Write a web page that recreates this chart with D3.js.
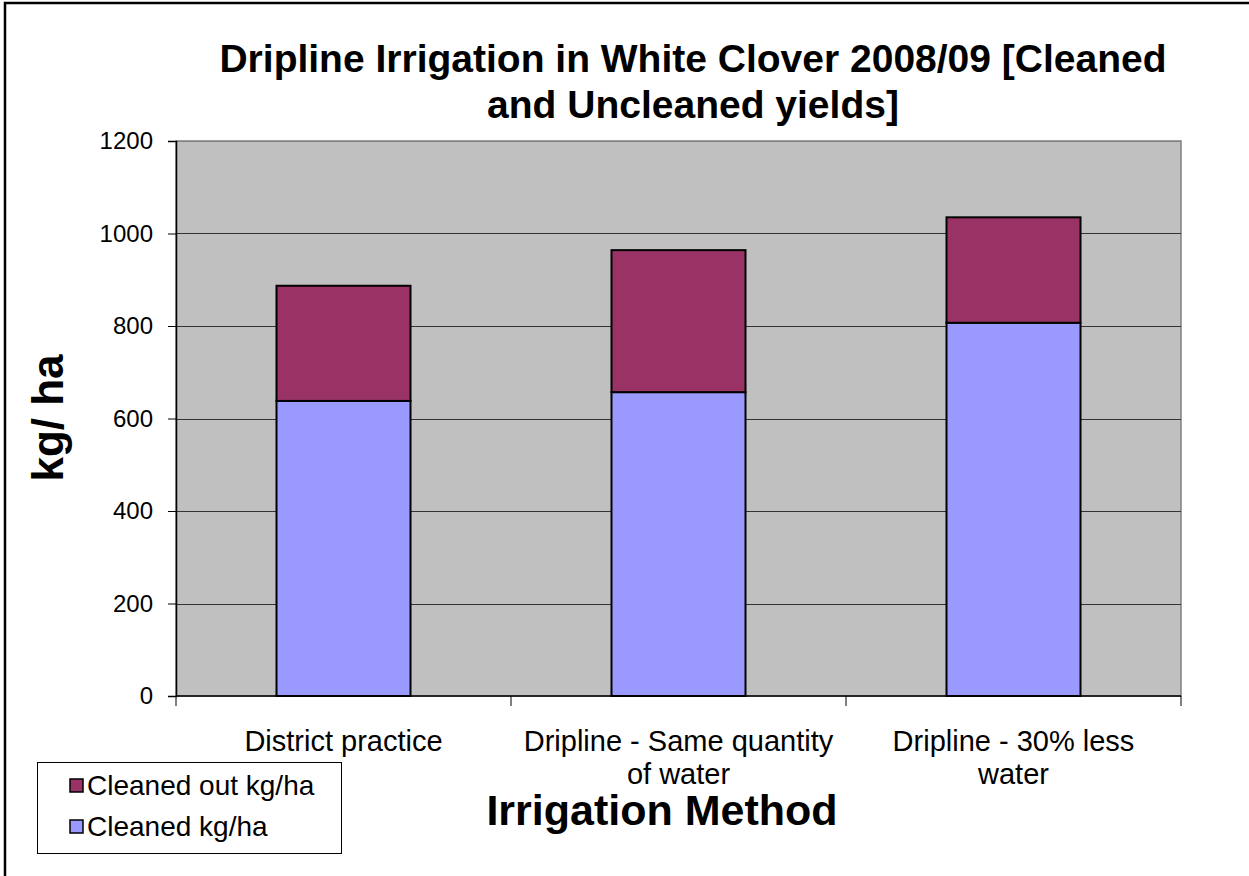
<!DOCTYPE html>
<html>
<head>
<meta charset="utf-8">
<script src="https://cdn.jsdelivr.net/npm/d3@7"></script>
<style>
  body { margin: 0; background: #fff; }
  svg { display: block; font-family: 'Liberation Sans', Arial, sans-serif; }
</style>
</head>
<body>
<svg id="chart" width="1249" height="876"></svg>
<script>
// chart data
const categories = ['District practice', 'Dripline - Same quantity of water', 'Dripline - 30% less water']
const categoryLines = [['District practice'], ['Dripline - Same quantity', 'of water'], ['Dripline - 30% less', 'water']]
const cleaned = [638, 657, 807]
const cleanedOut = [249, 307, 228]
const seriesNames = ['Cleaned kg/ha', 'Cleaned out kg/ha']
const seriesColors = ['#9999FF', '#993366']
const yTicks = [0, 200, 400, 600, 800, 1000, 1200]
const titleLines = ['Dripline Irrigation in White Clover 2008/09 [Cleaned', 'and Uncleaned yields]']

const svg = d3.select('#chart')
const plot = { left: 176, right: 1181, top: 141, bottom: 696 }

// outer chart border (only top/left visible in the crop)
svg.append('rect')
  .attr('x', 5).attr('y', 3)
  .attr('width', 1400).attr('height', 1000)
  .attr('fill', 'white')
  .attr('stroke', 'black')
  .attr('stroke-width', 2.5)

const x = d3.scaleBand()
  .domain(categories)
  .range([plot.left, plot.right])
  .paddingInner(0.6)
  .paddingOuter(0.3)

const y = d3.scaleLinear()
  .domain([0, 1200])
  .range([plot.bottom, plot.top])

// plot background
svg.append('rect')
  .attr('x', plot.left).attr('y', plot.top)
  .attr('width', plot.right - plot.left).attr('height', plot.bottom - plot.top)
  .attr('fill', '#C0C0C0')
  .attr('stroke', '#808080')
  .attr('stroke-width', 1.5)

// gridlines
svg.append('g')
  .selectAll('line')
  .data(yTicks.filter(d => d > 0))
  .enter()
  .append('line')
  .attr('x1', plot.left).attr('x2', plot.right)
  .attr('y1', d => Math.round(y(d)) + 0.5).attr('y2', d => Math.round(y(d)) + 0.5)
  .attr('stroke', d => d === 1200 ? '#808080' : '#333')
  .attr('stroke-width', 1.2)

// stacked bars
const stackData = categories.map((c, i) => ({ cat: c, cleaned: cleaned[i], out: cleanedOut[i] }))
const stack = d3.stack().keys(['cleaned', 'out'])(stackData)

svg.append('g')
  .selectAll('g')
  .data(stack)
  .enter()
  .append('g')
  .attr('fill', (d, i) => seriesColors[i])
  .selectAll('rect')
  .data(d => d)
  .enter()
  .append('rect')
  .attr('x', d => x(d.data.cat))
  .attr('y', d => y(d[1]))
  .attr('width', x.bandwidth())
  .attr('height', d => y(d[0]) - y(d[1]))
  .attr('stroke', 'black')
  .attr('stroke-width', 2)

// y axis
const yAxis = svg.append('g')
  .attr('transform', `translate(${plot.left},0)`)
  .call(d3.axisLeft(y).tickValues(yTicks).tickFormat(d3.format('d')).tickSize(8).tickPadding(15))
yAxis.select('.domain').attr('stroke', 'black').attr('stroke-width', 1.5)
yAxis.selectAll('.tick line').attr('stroke', 'black')
yAxis.selectAll('text').attr('font-size', 24).attr('fill', 'black')

// x axis: ticks at category boundaries
const step = (plot.right - plot.left) / categories.length
svg.append('line')
  .attr('x1', plot.left).attr('x2', plot.right)
  .attr('y1', plot.bottom).attr('y2', plot.bottom)
  .attr('stroke', 'black').attr('stroke-width', 1.5)
svg.append('g')
  .selectAll('line')
  .data(d3.range(categories.length + 1))
  .enter()
  .append('line')
  .attr('x1', i => plot.left + i * step).attr('x2', i => plot.left + i * step)
  .attr('y1', plot.bottom).attr('y2', plot.bottom + 10)
  .attr('stroke', 'black')

// category labels
svg.append('g')
  .selectAll('text')
  .data(categoryLines)
  .enter()
  .append('text')
  .attr('text-anchor', 'middle')
  .attr('font-size', 29)
  .attr('x', (d, i) => x(categories[i]) + x.bandwidth() / 2)
  .attr('y', 751)
  .selectAll('tspan')
  .data(d => d)
  .enter()
  .append('tspan')
  .attr('x', function () { return d3.select(this.parentNode).attr('x') })
  .attr('dy', (d, i) => i === 0 ? 0 : 33)
  .text(d => d)

// title
svg.append('text')
  .attr('text-anchor', 'middle')
  .attr('font-size', 39)
  .attr('font-weight', 'bold')
  .selectAll('tspan')
  .data(titleLines)
  .enter()
  .append('tspan')
  .attr('x', 693)
  .attr('y', (d, i) => 72 + i * 46)
  .text(d => d)

// axis titles
svg.append('text')
  .attr('text-anchor', 'middle')
  .attr('font-size', 43)
  .attr('font-weight', 'bold')
  .attr('x', 662).attr('y', 825)
  .text('Irrigation Method')

svg.append('text')
  .attr('text-anchor', 'middle')
  .attr('font-size', 44)
  .attr('font-weight', 'bold')
  .attr('transform', 'translate(63,418) rotate(-90)')
  .text('kg/ ha')

// legend
const legend = svg.append('g')
legend.append('rect')
  .attr('x', 37.5).attr('y', 762.5)
  .attr('width', 304).attr('height', 91)
  .attr('fill', 'white').attr('stroke', 'black')

const legendItems = [1, 0]
legend.selectAll('g.item')
  .data(legendItems)
  .enter()
  .append('g')
  .attr('class', 'item')
  .attr('transform', (d, i) => `translate(70,${786 + i * 41})`)
  .each(function (s) {
    const g = d3.select(this)
    g.append('rect')
      .attr('x', 0).attr('y', -7)
      .attr('width', 13).attr('height', 13)
      .attr('fill', seriesColors[s])
      .attr('stroke', 'black').attr('stroke-width', 1.5)
    g.append('text')
      .attr('x', 17).attr('y', 9)
      .attr('font-size', 28)
      .text(seriesNames[s])
  })
</script>
</body>
</html>
